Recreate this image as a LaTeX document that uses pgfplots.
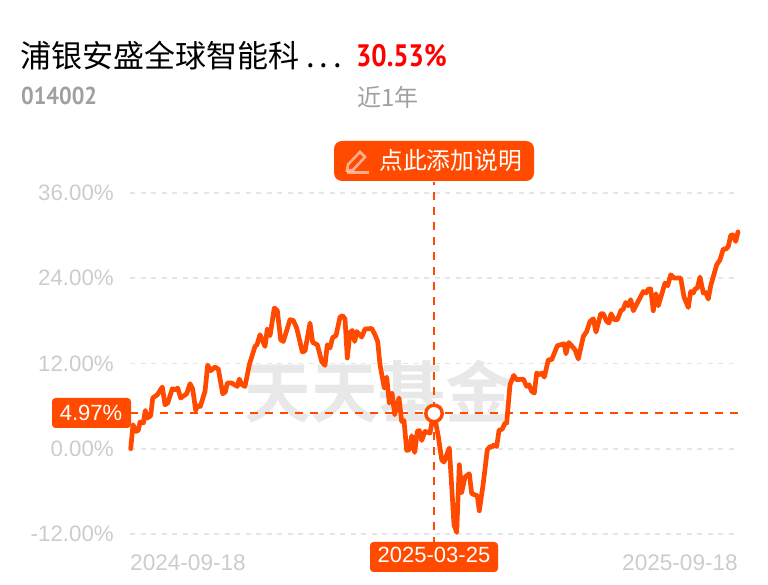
\documentclass[border=0pt]{standalone}
\usepackage{fontspec}
\usepackage{pgfplots}
\pgfplotsset{compat=1.18}
\setmainfont{Liberation Sans}
\newfontfamily\cjk{Noto Sans CJK SC}
\newfontfamily\cjkb{Noto Sans CJK SC Bold}
\newfontfamily\din[FakeStretch=0.87]{PT Sans}
\newfontfamily\dinb[FakeStretch=0.91]{PT Sans}
\definecolor{acc}{HTML}{FF4A00}
\definecolor{tick}{HTML}{CCCCCC}
\definecolor{gridc}{HTML}{E6E6E6}
\definecolor{subg}{HTML}{A0A0A0}
\definecolor{wm}{HTML}{E8E8E8}
\pgfplotstableread{
x y
0.7 0.00
3 3.38
6 2.44
8.3 2.58
10 3.76
13.3 3.62
15.3 5.39
17.3 4.32
20.7 4.65
22.7 7.14
27.3 7.60
32.3 8.69
35 6.19
37.7 6.43
42.3 8.45
45 8.31
47.7 8.54
50.7 7.14
56.7 7.74
60 9.15
62.7 8.40
65.7 5.39
67.3 6.05
70.3 5.95
75 8.07
77.7 11.78
80.7 10.98
85 11.50
88.3 11.22
92.7 7.74
95.3 7.98
97.3 9.25
101.7 9.25
107.3 8.77
109.3 9.81
112 9.01
115 8.77
119.3 11.82
125 14.40
127 14.64
130 16.05
135 14.40
137.3 16.85
140 15.91
144.3 19.81
147.3 19.47
150.7 15.34
153.3 15.10
160 18.16
163.3 18.06
166.7 16.99
172.3 13.65
175 13.75
180 17.69
182.7 14.96
187.3 14.64
191.7 12.29
195 11.73
197.3 14.64
200 14.18
202.7 15.67
206 15.91
210 18.54
212.7 18.72
215 18.26
217.3 12.77
220 16.37
222.3 16.65
224.7 15.10
226.7 16.51
231.7 15.72
235 16.85
241.7 16.93
245 16.05
247.7 15.10
250 11.82
254.3 8.54
256.7 10.09
259.3 6.43
262 7.84
264.7 4.79
269 7.14
271.7 3.84
274 3.98
276.7 -0.24
279.3 -0.14
281.7 1.83
284.7 -0.52
287.3 2.44
289.3 2.58
291.7 1.17
295 2.44
300 2.21
302.7 4.32
304 4.97
308.3 1.73
311.7 -1.55
314 -1.87
319.3 0.10
321.7 -5.31
324 -10.70
326.7 -11.78
329.3 -2.25
331.7 -6.15
335 -3.98
339.3 -3.52
341.7 -6.33
347.3 -6.62
349.3 -8.73
353.3 -4.83
357.3 -0.14
360 0.32
362 0.24
364 0.56
366.7 0.32
369 2.58
372.3 2.77
375 3.62
376.7 3.62
380 9.01
383.7 10.32
386.7 9.71
393.3 9.81
396.7 8.77
399 9.01
401.7 8.07
404.3 7.84
406.7 10.66
410 10.42
411.7 10.66
414.3 10.09
418.3 12.53
421.7 12.53
427.3 14.50
434 14.78
436 13.37
438.7 14.96
445 13.94
448.3 12.63
453.3 15.81
456.7 16.51
460 17.92
463.3 18.30
466 16.43
470.7 19.00
473.3 19.00
476.7 17.92
479 17.69
481 19.00
484.3 18.16
487.3 18.16
491 19.47
493.3 19.66
495.7 20.59
498.3 20.13
500.7 20.98
503.3 19.43
513.3 22.14
516 21.92
518.3 22.48
520.7 22.48
523.3 19.43
526 21.82
528.3 20.13
535 23.33
537.7 22.95
540.7 24.49
544 24.03
550.7 24.03
554 21.35
558.3 19.89
560.7 22.14
563.3 21.92
565 22.48
567.3 22.62
570 24.17
573.3 21.92
575.7 22.00
578.3 21.07
580.7 22.95
586.7 25.90
590 26.60
593.3 28.11
596 28.11
598.3 28.48
600.7 30.03
602.7 30.12
605.7 29.18
608 30.53
}\fundtable
\begin{document}
\begin{tikzpicture}[x=1pt,y=1pt]
\path (0,0) rectangle (768,585);
\node[anchor=west,inner sep=0,font=\cjk\fontsize{31}{33}\selectfont,text=black] at (20,529) {浦银安盛全球智能科\hspace{7pt}.\hspace{5pt}.\hspace{5pt}.};
\node[anchor=west,inner sep=0,font=\din\bfseries\fontsize{31}{33}\selectfont,text=red] at (356,529) {30.53\%};
\node[anchor=west,inner sep=0,font=\dinb\bfseries\fontsize{24.5}{27}\selectfont,text=subg] at (21,489) {014002};
\node[anchor=west,inner sep=0,font=\cjk\fontsize{24}{26}\selectfont,text=subg] at (357,488) {近1年};
\node[anchor=center,inner sep=0,font=\cjkb\fontsize{67}{70}\selectfont,text=wm] at (378,194) {天天基金};
\begin{axis}[
  at={(130pt,51pt)},anchor=south west,
  scale only axis,width=608pt,height=341pt,
  xmin=0,xmax=608,ymin=-12,ymax=36,
  clip=false,
  axis line style={draw=none},
  xtick=\empty,
  ytick={-12,0,12,24,36},
  yticklabels={-12.00\%,0.00\%,12.00\%,24.00\%,36.00\%},
  major tick length=0pt,
  tick style={draw=none},
  yticklabel style={text=tick,font=\fontsize{22.3}{24}\selectfont,anchor=east,xshift=-16pt,inner sep=0pt},
  ymajorgrids,
  grid style={draw=gridc,line width=1.6pt,dash pattern=on 5pt off 5.5pt},
]
\addplot[draw=acc,line width=2.1pt,dash pattern=on 7.5pt off 7.5pt,forget plot] coordinates {(0,4.97) (608,4.97)};
\addplot[draw=acc,line width=2.1pt,dash pattern=on 7.5pt off 7.5pt,forget plot] coordinates {(304,-13.5) (304,37.5)};
\addplot[draw=acc,line width=4.7pt,line join=round,line cap=round] table[x=x,y=y] {\fundtable};
\addplot[only marks,mark=*,mark size=8.2pt,mark options={fill=white,draw=acc,line width=3.4pt}] coordinates {(304,4.97)};
\end{axis}
\node[anchor=west,inner sep=0,text=tick,font=\fontsize{22.6}{24}\selectfont] at (130,22) {2024-09-18};
\node[anchor=east,inner sep=0,text=tick,font=\fontsize{22.6}{24}\selectfont] at (738,22) {2025-09-18};
\fill[acc,rounded corners=3.5pt] (52,157) rectangle (131,187);
\node[text=white,inner sep=0,font=\fontsize{22}{24}\selectfont] at (91,172) {4.97\%};
\fill[acc,rounded corners=3.5pt] (370,13) rectangle (498,43);
\node[text=white,inner sep=0,font=\fontsize{22}{24}\selectfont] at (434,30) {2025-03-25};
\fill[acc,rounded corners=8pt] (334,404) rectangle (534,444);
\node[anchor=west,text=white,inner sep=0,font=\cjk\fontsize{23.8}{25}\selectfont] at (379,424) {点此添加说明};
\begin{scope}[white,opacity=0.55,line width=2.6pt]
\draw (348,420.5) -- (360,433) -- (365,428) -- (353,415) -- (347,414.5) -- cycle;
\draw (347,412.5) -- (369,412.5);
\end{scope}
\end{tikzpicture}
\end{document}
